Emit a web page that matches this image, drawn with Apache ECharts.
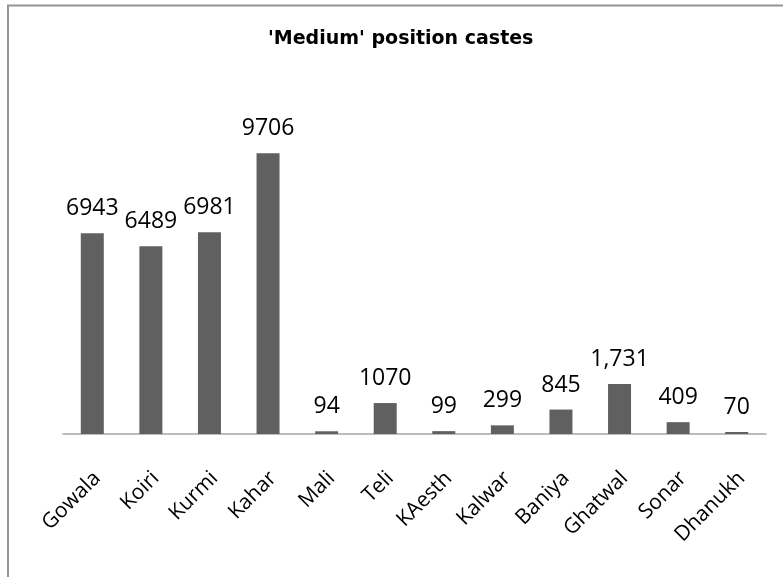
<!DOCTYPE html>
<html>
<head>
<meta charset="utf-8">
<script src="https://cdn.jsdelivr.net/npm/echarts@6/dist/echarts.min.js"></script>
<style>
  html, body { margin: 0; padding: 0; background: #fff; }
  #chart { width: 783px; height: 577px; }
</style>
</head>
<body>
<div id="chart"></div>
<script>
const castes = ['Gowala', 'Koiri', 'Kurmi', 'Kahar', 'Mali', 'Teli', 'KAesth', 'Kalwar', 'Baniya', 'Ghatwal', 'Sonar', 'Dhanukh']
const counts = [6943, 6489, 6981, 9706, 94, 1070, 99, 299, 845, 1731, 409, 70]
// labels as printed on the original (one uses a thousands separator)
const countLabels = ['6943', '6489', '6981', '9706', '94', '1070', '99', '299', '845', '1,731', '409', '70']

const chart = echarts.init(document.getElementById('chart'))
chart.setOption({
  animation: false,
  title: {
    text: "'Medium' position castes",
    left: 268,
    top: 30,
    padding: 0,
    textStyle: { fontFamily: 'DejaVu Sans', fontWeight: 'bold', fontSize: 19, color: '#000' }
  },
  // only the top and left edges of the chart frame show in the crop
  graphic: [{
    type: 'polyline',
    shape: { points: [[8, 577], [8, 5.5], [783, 5.5]] },
    style: { fill: 'none', stroke: '#949494', lineWidth: 2 },
    silent: true
  }],
  grid: { left: 63, right: 17, top: 87, bottom: 143 },
  xAxis: {
    type: 'category',
    data: castes,
    axisLine: { lineStyle: { color: '#a6a6a6', width: 1.5 } },
    axisTick: { show: false },
    axisLabel: {
      rotate: 45,
      interval: 0,
      margin: 46,
      padding: [0, -7, 0, 0],
      fontFamily: 'Open Sans',
      fontSize: 21,
      color: '#000'
    }
  },
  yAxis: {
    type: 'value',
    min: 0,
    max: 12000,
    show: false
  },
  series: [{
    type: 'bar',
    data: counts,
    barWidth: 23,
    itemStyle: { color: '#606060' },
    label: {
      show: true,
      position: 'top',
      distance: 13,
      fontFamily: 'Open Sans',
      fontSize: 23,
      color: '#000',
      formatter: p => countLabels[p.dataIndex]
    }
  }]
})
</script>
</body>
</html>
